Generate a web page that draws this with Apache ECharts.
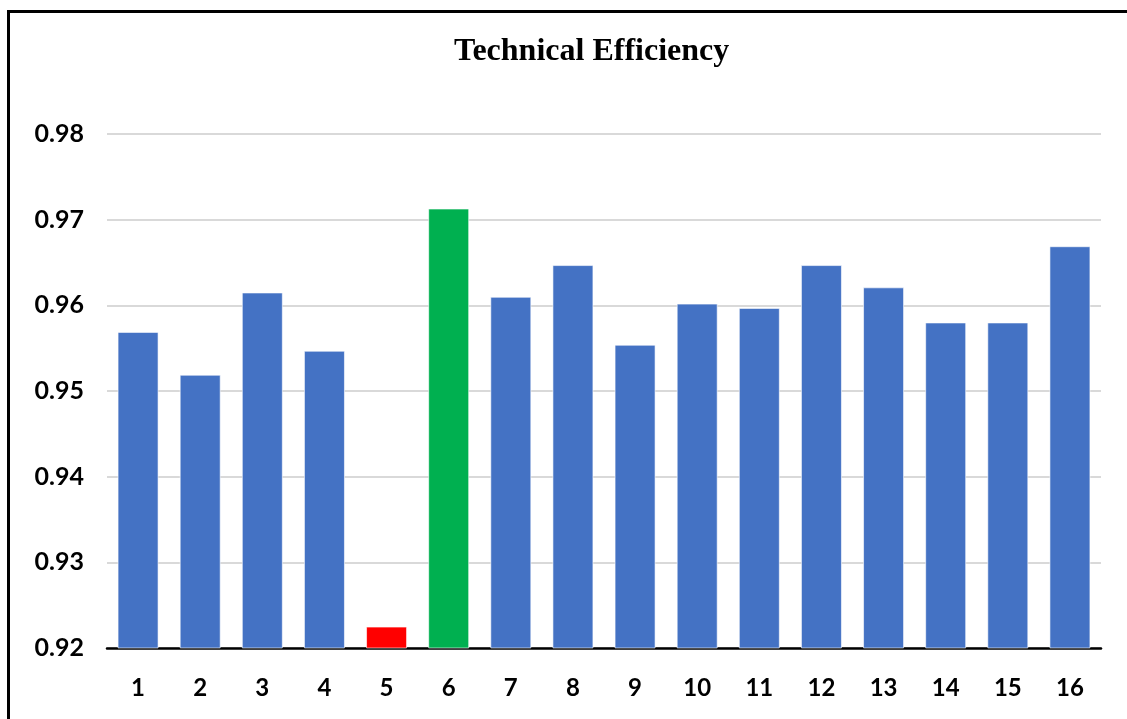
<!DOCTYPE html>
<html>
<head>
<meta charset="utf-8">
<script src="https://cdn.jsdelivr.net/npm/echarts@6/dist/echarts.min.js"></script>
<style>
html,body{margin:0;padding:0;background:#fff;}
#chart{width:1127px;height:719px;}
</style>
</head>
<body>
<div id="chart"></div>
<script>
const categories = ['1','2','3','4','5','6','7','8','9','10','11','12','13','14','15','16'];
const efficiency = [0.9569, 0.9519, 0.9615, 0.9547, 0.9225, 0.9713, 0.9610, 0.9647, 0.9554, 0.9602, 0.9597, 0.9647, 0.9621, 0.9580, 0.9580, 0.9669];
const barColors = ['#4472C4','#4472C4','#4472C4','#4472C4','#FF0000','#00B050','#4472C4','#4472C4','#4472C4','#4472C4','#4472C4','#4472C4','#4472C4','#4472C4','#4472C4','#4472C4'];
const yTicks = { min: 0.92, max: 0.98, interval: 0.01 };

const chart = echarts.init(document.getElementById('chart'), null, { renderer: 'canvas' });
chart.setOption({
  backgroundColor: '#fff',
  animation: false,
  title: {
    text: 'Technical Efficiency',
    left: 449,
    top: 31,
    textStyle: { fontFamily: 'Liberation Serif', fontWeight: 'bold', fontSize: 32, color: '#000' }
  },
  graphic: [{
    type: 'rect',
    shape: { x: 8.5, y: 11.5, width: 1130, height: 720 },
    style: { fill: 'none', stroke: '#000', lineWidth: 3 },
    silent: true
  }],
  grid: { left: 107, right: 26, top: 134, bottom: 71, containLabel: false },
  xAxis: {
    type: 'category',
    data: categories,
    axisLine: { show: true, lineStyle: { color: '#000', width: 2.5 } },
    axisTick: { show: false },
    axisLabel: { margin: 28, fontFamily: 'Lato', fontWeight: 'bold', fontSize: 24, color: '#000' }
  },
  yAxis: {
    type: 'value',
    min: yTicks.min,
    max: yTicks.max,
    interval: yTicks.interval,
    axisLine: { show: false },
    axisTick: { show: false },
    axisLabel: { margin: 23, fontFamily: 'Lato', fontWeight: 'bold', fontSize: 25, color: '#000',
      formatter: v => v.toFixed(2) },
    splitLine: { lineStyle: { color: '#D9D9D9', width: 2 } }
  },
  series: [{
    type: 'bar',
    data: efficiency.map((v, i) => ({ value: v, itemStyle: { color: barColors[i] } })),
    barWidth: '66%',
    itemStyle: { borderColor: 'rgba(255,255,255,0.6)', borderWidth: 1 }
  }]
});
</script>
</body>
</html>
